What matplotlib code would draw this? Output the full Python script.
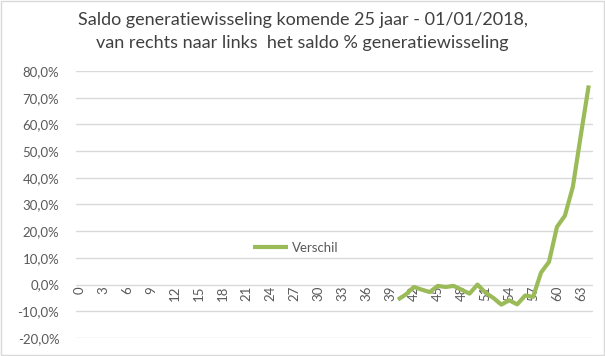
import numpy as np
import matplotlib.pyplot as plt
from matplotlib.ticker import FuncFormatter

# categories 0..64, the series only has values from 40 on
categories = list(range(0, 65))
start = 40
verschil = [-5.6, -3.7, -0.9, -1.9, -2.8, -0.5, -0.9, -0.5, -1.9, -3.4,
            0.0, -3.0, -5.0, -7.5, -5.9, -7.4, -4.1, -4.6, 4.5, 8.5,
            21.6, 25.8, 36.6, 55.9, 74.6]
title = "Saldo generatiewisseling komende 25 jaar - 01/01/2018,\nvan rechts naar links  het saldo % generatiewisseling"

plt.rcParams['font.family'] = ['Lato', 'DejaVu Sans']

fig = plt.figure(figsize=(6.05, 3.56), dpi=100)
ax = fig.add_axes([0.1256, 0.0506, 0.8541, 0.75])

x = np.array(categories[start:start + len(verschil)])
y = np.array(verschil) / 100.0
ax.plot(x, y, color='#9bbb59', linewidth=3, solid_capstyle='butt', label='Verschil')

ax.set_xlim(-0.5, 64.5)
ax.set_ylim(-0.2, 0.8)
ax.set_yticks(np.arange(-0.2, 0.81, 0.1))
ax.yaxis.set_major_formatter(FuncFormatter(lambda v, p: ('%.1f%%' % (v * 100)).replace('.', ',').replace('-0,0', '0,0')))
ax.grid(axis='y', color='#d9d9d9', linewidth=1)
ax.set_axisbelow(True)

ax.set_xticks(categories[::3])
ax.set_xticklabels([str(c) for c in categories[::3]])
ax.spines['bottom'].set_position(('data', 0))
for s in ax.spines.values():
    s.set_visible(False)
ax.tick_params(axis='both', length=0, labelsize=9.5, colors='#595959')
ax.tick_params(axis='y', pad=12)
ax.tick_params(axis='x', pad=1, labelrotation=90)
for lbl in ax.get_xticklabels():
    lbl.set_va('top')
    lbl.set_ha('center')

ax.legend(loc='center left', bbox_to_anchor=(0.32, 0.337), frameon=False,
          fontsize=9.5, handlelength=2.6, handletextpad=0.3, labelcolor='#595959')

fig.text(0.5, 0.965, title, ha='center', va='top', fontsize=13, color='#404040',
         linespacing=1.5)
fig.patches.append(plt.Rectangle((0.001, 0.002), 0.997, 0.995, transform=fig.transFigure,
                                 fill=False, edgecolor='#d9d9d9', linewidth=1))

fig.savefig('out.png', dpi=100)
